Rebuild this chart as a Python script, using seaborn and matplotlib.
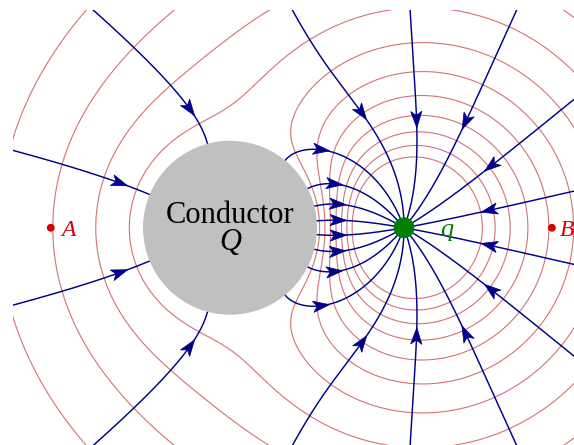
import numpy as np
import pandas as pd
import matplotlib
matplotlib.use("Agg")
import matplotlib.pyplot as plt
from matplotlib.patches import Circle, Polygon
import seaborn as sns

# ---------------- data (units: conductor radius, 2-D line charges) ----------------
R_COND = 1.0                      # conductor radius
COND_CENTER = [0.0, 0.0]
Q_POS = [2.0, 0.0]                # point charge q
Q_CHARGE = -1.0
Q_CONDUCTOR = 0.222               # net charge Q on the conductor (4 of 18 flux lines)
A_POS = [-2.06, 0.0]
B_POS = [3.70, 0.0]
Q_LINE_ANGLES = [10, 30, 50, 70, 90, 110, 130, 150, 170,
                 190, 210, 230, 250, 270, 290, 310, 330, 350]
COND_LINE_ANGLES = [105, 157.5, 202.5, 255]
LEVELS = [-0.152, -0.022, 0.108, 0.238, 0.368, 0.498, 0.628,
          0.758, 0.888, 1.018, 1.148]
LABELS = ["Conductor", "Q", "A", "B", "q"]

XMIN, XMAX, YMIN, YMAX = -2.5, 3.954, -2.494, 2.5

NAVY = "#000088"
RED_LINE = "#d07474"
RED = "#d40000"
GREEN = "#008000"

sns.set_theme(style="white")

# ---------------- physics: image charges (cylinder + line charge) ----------------
d = Q_POS[0] - COND_CENTER[0]
q_img = -Q_CHARGE
x_img = R_COND ** 2 / d
q_center = Q_CONDUCTOR - q_img
charges = [(Q_POS[0], Q_POS[1], Q_CHARGE),
           (x_img, 0.0, q_img),
           (COND_CENTER[0], COND_CENTER[1], q_center)]


def efield(x, y):
    ex = 0.0
    ey = 0.0
    for cx, cy, k in charges:
        dx, dy = x - cx, y - cy
        r2 = dx * dx + dy * dy
        ex = ex + k * dx / r2
        ey = ey + k * dy / r2
    return ex, ey


def potential(x, y):
    v = 0.0
    for cx, cy, k in charges:
        v = v - k * np.log(np.hypot(x - cx, y - cy))
    return v


def direc(p):
    ex, ey = efield(p[0], p[1])
    n = np.hypot(ex, ey)
    return np.array([-ex / n, -ey / n])


def trace(p0, ds=0.004, nmax=8000):
    pts = [np.array(p0, float)]
    p = np.array(p0, float)
    end = "out"
    c = np.array(COND_CENTER, float)
    for i in range(nmax):
        k1 = direc(p)
        k2 = direc(p + 0.5 * ds * k1)
        k3 = direc(p + 0.5 * ds * k2)
        k4 = direc(p + ds * k3)
        p = p + ds / 6 * (k1 + 2 * k2 + 2 * k3 + k4)
        rc = np.hypot(*(p - c))
        if rc < R_COND:
            p = c + (p - c) / rc * R_COND
            pts.append(p)
            end = "cond"
            break
        pts.append(p)
        if p[0] < XMIN - 0.3 or p[0] > XMAX + 0.3 or p[1] < YMIN - 0.3 or p[1] > YMAX + 0.3:
            break
    return np.array(pts), end


def clip_prefix(path):
    inside = (path[:, 0] >= XMIN) & (path[:, 0] <= XMAX) & (path[:, 1] >= YMIN) & (path[:, 1] <= YMAX)
    idx = len(path)
    started = False
    for i, ok in enumerate(inside):
        if ok:
            started = True
        elif started:
            idx = i
            break
    return path[:idx]


def point_at(path, frac):
    seg = np.hypot(*np.diff(path, axis=0).T)
    cum = np.concatenate([[0], np.cumsum(seg)])
    s = frac * cum[-1]
    i = np.searchsorted(cum, s)
    i = min(max(i, 1), len(path) - 1)
    p = path[i]
    u = path[i] - path[i - 1]
    u = u / np.hypot(*u)
    return p, u


def arrow(ax, p, u, L=0.19, W=0.13):
    n = np.array([-u[1], u[0]])
    pts = [p + 0.5 * L * u,
           p - 0.5 * L * u + 0.5 * W * n,
           p - 0.25 * L * u,
           p - 0.5 * L * u - 0.5 * W * n]
    ax.add_patch(Polygon(pts, closed=True, facecolor=NAVY, edgecolor=NAVY,
                         lw=0.5, zorder=4, joinstyle="miter"))


# ---------------- figure ----------------
fig = plt.figure(figsize=(5.74, 4.45), dpi=100)
ax = fig.add_axes([12.5 / 574, 0, 1 - 12.5 / 574, 1 - 10.0 / 445])
ax.set_xlim(XMIN, XMAX)
ax.set_ylim(YMIN, YMAX)
ax.set_aspect("equal")
ax.axis("off")

# equipotentials
gx = np.linspace(XMIN - 0.1, XMAX + 0.1, 900)
gy = np.linspace(YMIN - 0.1, YMAX + 0.1, 700)
GX, GY = np.meshgrid(gx, gy)
with np.errstate(divide="ignore", invalid="ignore"):
    V = potential(GX, GY)
ax.contour(GX, GY, V, levels=sorted(LEVELS), colors=RED_LINE, linewidths=0.8,
           linestyles="solid", zorder=1)

# field lines from q
for ang in Q_LINE_ANGLES:
    a = np.deg2rad(ang)
    p0 = [Q_POS[0] + 0.02 * np.cos(a), Q_POS[1] + 0.02 * np.sin(a)]
    path, end = trace(p0)
    path = np.vstack([Q_POS, path])
    df = pd.DataFrame({"x": path[:, 0], "y": path[:, 1]})
    sns.lineplot(data=df, x="x", y="y", sort=False, estimator=None, color=NAVY, lw=1.05, ax=ax, zorder=2)
    if end == "cond":
        p, u = point_at(path, 0.75)
    else:
        p, u = point_at(clip_prefix(path), 0.5)
    arrow(ax, p, -u)

# field lines from infinity into the conductor
for ang in COND_LINE_ANGLES:
    a = np.deg2rad(ang)
    p0 = [COND_CENTER[0] + 1.002 * R_COND * np.cos(a), COND_CENTER[1] + 1.002 * R_COND * np.sin(a)]
    path, end = trace(p0)
    df = pd.DataFrame({"x": path[:, 0], "y": path[:, 1]})
    sns.lineplot(data=df, x="x", y="y", sort=False, estimator=None, color=NAVY, lw=1.05, ax=ax, zorder=2)
    p, u = point_at(clip_prefix(path), 0.22)
    arrow(ax, p, -u)

# conductor, charge and points
ax.add_patch(Circle(COND_CENTER, R_COND, facecolor="#c0c0c0", edgecolor="none", zorder=5))
ax.add_patch(Circle(Q_POS, 0.12, facecolor=GREEN, edgecolor="none", zorder=6))
ax.add_patch(Circle(A_POS, 0.045, facecolor=RED, edgecolor="none", zorder=6))
ax.add_patch(Circle(B_POS, 0.045, facecolor=RED, edgecolor="none", zorder=6))

serif = ["Liberation Serif", "DejaVu Serif"]
ax.text(0.0, 0.057, LABELS[0], ha="center", va="baseline", fontsize=22, family=serif, color="black", zorder=7)
ax.text(0.0, -0.25, LABELS[1], ha="center", va="baseline", fontsize=22, family=serif, style="italic", color="black", zorder=7)
ax.text(A_POS[0] + 0.12, -0.092, LABELS[2], ha="left", va="baseline", fontsize=17, family=serif, style="italic", color=RED, zorder=7)
ax.text(B_POS[0] + 0.09, -0.092, LABELS[3], ha="left", va="baseline", fontsize=17, family=serif, style="italic", color=RED, zorder=7)
ax.text(Q_POS[0] + 0.41, -0.092, LABELS[4], ha="left", va="baseline", fontsize=19, family=serif, style="italic", color=GREEN, zorder=7)

fig.savefig("out.png", dpi=100)
